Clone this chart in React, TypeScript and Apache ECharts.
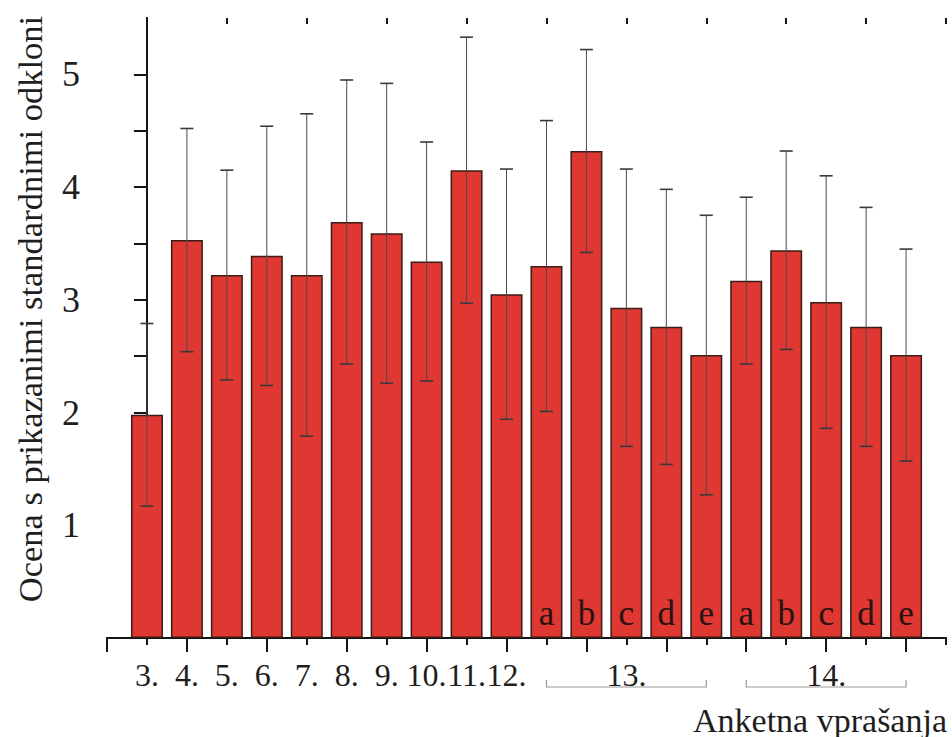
import React, { useEffect, useRef } from 'react';
import * as echarts from 'echarts';

// ---- data ----
const tickLabels = ['3.', '4.', '5.', '6.', '7.', '8.', '9.', '10.', '11.', '12.'];
const groupNames = ['13.', '14.'];
const subLetters = ['a', 'b', 'c', 'd', 'e'];
const means = [1.98, 3.53, 3.22, 3.39, 3.22, 3.69, 3.59, 3.34, 4.15, 3.05, 3.30, 4.32, 2.93, 2.76, 2.51, 3.17, 3.44, 2.98, 2.76, 2.51];
const sds = [0.81, 0.99, 0.93, 1.15, 1.43, 1.26, 1.33, 1.06, 1.18, 1.11, 1.29, 0.90, 1.23, 1.22, 1.24, 0.74, 0.88, 1.12, 1.06, 0.94];
const yMajorTicks = [0, 1, 2, 3, 4, 5];
const yTickLabels = [1, 2, 3, 4, 5];
const yMinorTicks = [0.5, 1.5, 2.5, 3.5, 4.5];
const yMax = 5.5;
const yTitle = 'Ocena s prikazanimi standardnimi odkloni';
const xTitle = 'Anketna vprašanja';

const FONT = "'Liberation Serif', 'Times New Roman', serif";

export default function App() {
  const ref = useRef<HTMLDivElement>(null);
  useEffect(() => {
    if (!ref.current) return;
    const chart = echarts.init(ref.current, null, { renderer: 'svg' });
    const n = means.length;
    const letters = [...tickLabels.map(() => ''), ...groupNames.flatMap(() => subLetters)];
    const groups = groupNames.map((g, i) => {
      const start = tickLabels.length + i * subLetters.length;
      return { name: g, start, end: start + subLetters.length - 1, mid: start + (subLetters.length - 1) / 2 };
    });
    const labelMap: Record<number, string> = {};
    tickLabels.forEach((t, i) => (labelMap[i] = t));
    groups.forEach((g) => (labelMap[g.mid] = g.name));
    const oddTicks: number[] = [];
    for (let k = -1; k < n; k += 2) oddTicks.push(k);
    const evenTicks: number[] = [];
    for (let k = 0; k <= n; k += 2) evenTicks.push(k);
    const rightTicks: number[] = [];
    for (let v = 0; v <= 5; v += 0.5) rightTicks.push(v);

    const gridRect = { left: 107, top: 18, width: 839, height: 620 };
    const lineC = '#151515';
    const baseX = { type: 'value', min: -1, max: n, splitLine: { show: false } };
    const baseY = { type: 'value', min: 0, max: yMax, splitLine: { show: false } };

    chart.setOption({
      animation: false,
      backgroundColor: '#ffffff',
      grid: [
        { ...gridRect },
        { ...gridRect },
      ],
      xAxis: [
        {
          ...baseX, gridIndex: 0, position: 'bottom',
          axisLine: { show: true, lineStyle: { color: lineC, width: 2 } },
          axisTick: { show: true, inside: false, length: 12, customValues: oddTicks, lineStyle: { color: lineC, width: 2 } },
          axisLabel: { show: false },
        },
        {
          ...baseX, gridIndex: 0, position: 'top',
          axisLine: { show: true, lineStyle: { color: lineC, width: 2 } },
          axisTick: { show: true, inside: true, length: 14, customValues: oddTicks, lineStyle: { color: lineC, width: 2 } },
          axisLabel: { show: false },
        },
        {
          ...baseX, gridIndex: 1, position: 'bottom',
          axisLine: { show: false },
          axisTick: { show: true, inside: false, length: 7, customValues: evenTicks, lineStyle: { color: lineC, width: 2 } },
          axisLabel: {
            show: true, customValues: Object.keys(labelMap).map(Number), margin: 21,
            fontSize: 32, fontFamily: FONT, color: '#1e1e1e',
            formatter: (v: number) => labelMap[v] ?? '',
          },
        },
        {
          ...baseX, gridIndex: 1, position: 'top',
          axisLine: { show: false },
          axisTick: { show: true, inside: true, length: 6, customValues: evenTicks, lineStyle: { color: lineC, width: 2 } },
          axisLabel: { show: false },
        },
      ],
      yAxis: [
        {
          ...baseY, gridIndex: 0, position: 'left',
          axisLine: { show: true, lineStyle: { color: lineC, width: 2 } },
          axisTick: { show: true, inside: false, length: 12, customValues: yMajorTicks, lineStyle: { color: lineC, width: 2 } },
          axisLabel: { show: true, customValues: yTickLabels, margin: 27, fontSize: 36, fontFamily: FONT, color: '#1e1e1e' },
        },
        {
          ...baseY, gridIndex: 0, position: 'right',
          axisLine: { show: true, lineStyle: { color: lineC, width: 2 } },
          axisTick: { show: true, inside: true, length: 13, customValues: rightTicks, lineStyle: { color: lineC, width: 2 } },
          axisLabel: { show: false },
        },
        {
          ...baseY, gridIndex: 1, position: 'left',
          axisLine: { show: false },
          axisTick: { show: true, inside: false, length: 7, customValues: yMinorTicks, lineStyle: { color: lineC, width: 2 } },
          axisLabel: { show: false },
        },
      ],
      graphic: [
        {
          type: 'text', x: 30, y: 309, rotation: Math.PI / 2,
          style: { text: yTitle, fontSize: 34.5, fontFamily: FONT, fill: '#1e1e1e', align: 'center', verticalAlign: 'middle' },
        },
        {
          type: 'text', x: 947, y: 720,
          style: { text: xTitle, fontSize: 34, fontFamily: FONT, fill: '#1e1e1e', align: 'right', verticalAlign: 'middle' },
        },
      ],
      series: [
        {
          type: 'bar', xAxisIndex: 0, yAxisIndex: 0, barWidth: 32,
          data: means.map((m, i) => [i, m]),
          itemStyle: { color: '#DF3731', borderColor: '#3a1c18', borderWidth: 1.5 },
          label: {
            show: true, position: 'insideBottom', distance: 7,
            fontSize: 35, fontFamily: FONT, color: '#2a1210',
            formatter: (p: any) => letters[p.dataIndex],
          },
          z: 2,
        },
        {
          type: 'custom', xAxisIndex: 0, yAxisIndex: 0, z: 3, clip: false,
          data: means.map((m, i) => [i, m - sds[i], m + sds[i]]),
          renderItem: (params: any, api: any) => {
            const x = api.value(0);
            const lo = api.coord([x, api.value(1)]);
            const hi = api.coord([x, api.value(2)]);
            const cap = 6.5;
            const stem = { stroke: '#4a4a4a', lineWidth: 1 };
            const capS = { stroke: '#3a3a3a', lineWidth: 1.6 };
            return {
              type: 'group',
              children: [
                { type: 'line', shape: { x1: lo[0], y1: lo[1], x2: hi[0], y2: hi[1] }, style: stem },
                { type: 'line', shape: { x1: hi[0] - cap, y1: hi[1], x2: hi[0] + cap, y2: hi[1] }, style: capS },
                { type: 'line', shape: { x1: lo[0] - cap, y1: lo[1], x2: lo[0] + cap, y2: lo[1] }, style: capS },
              ],
            };
          },
        },
        {
          type: 'custom', xAxisIndex: 0, yAxisIndex: 0, z: 3, clip: false, silent: true,
          data: groups.map((g) => [g.start, g.end]),
          renderItem: (params: any, api: any) => {
            const a = api.coord([api.value(0), 0]);
            const b = api.coord([api.value(1), 0]);
            const yb = a[1] + 49;
            return {
              type: 'polyline',
              shape: { points: [[a[0], yb - 7], [a[0], yb], [b[0], yb], [b[0], yb - 7]] },
              style: { stroke: '#9a9a9a', lineWidth: 1.2, fill: 'none' },
            };
          },
        },
      ],
    });
    return () => chart.dispose();
  }, []);
  return <div ref={ref} style={{ position: 'fixed', left: 0, top: 0, width: 952, height: 737 }} />;
}
